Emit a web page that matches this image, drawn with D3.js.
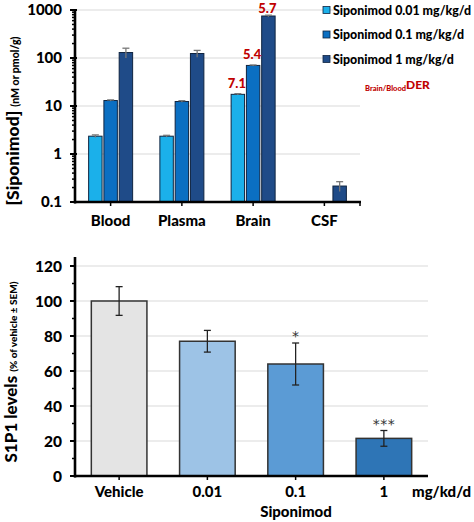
<!DOCTYPE html>
<html><head><meta charset="utf-8">
<script src="https://cdn.jsdelivr.net/npm/d3@7"></script>
<style>
html,body{margin:0;padding:0;background:#fff;}
svg{display:block;font-family:Lato,"Open Sans",sans-serif;font-weight:900;}
</style></head>
<body>
<svg id="chart" width="474" height="522"></svg>
<script>
// ---------- data: top panel ----------
const topCategories = ["Blood", "Plasma", "Brain", "CSF"];
const topSeries = ["Siponimod 0.01 mg/kg/d", "Siponimod 0.1 mg/kg/d", "Siponimod 1 mg/kg/d"];
const topColors = ["#1bb0ea", "#0b6fc2", "#1f4b88"];
const topValues = [
  [2.35, 2.35, 17.5, null],
  [13.0, 12.4, 70, null],
  [130, 124, 750, 0.215]
];
const topErrors = [
  [0.15, 0.1, 0.6, null],
  [0.4, 0.5, 1.5, null],
  [30, 20, 30, 0.05]
];
const derLabels = ["7.1", "5.4", "5.7"]; // Brain/Blood DER per dose
const topTicks = [0.1, 1, 10, 100, 1000];
const topTickLabels = ["0.1", "1", "10", "100", "1000"];

// ---------- data: bottom panel ----------
const botCategories = ["Vehicle", "0.01", "0.1", "1"];
const botValues = [100, 77, 64, 21.5];
const botErrors = [8.2, 6.2, 12, 4.5];
const botColors = ["#e4e4e4", "#9dc3e6", "#5b9bd5", "#2e75b6"];
const botSig = ["", "", "*", "***"];
const botTicks = [0, 20, 40, 60, 80, 100, 120];

const svg = d3.select("#chart");
const red = "#c00000";

// ================= TOP PANEL =================
const tx = d3.scaleBand().domain(topCategories).range([75, 360]).paddingInner(0).paddingOuter(0);
const tsub = d3.scaleBand().domain(d3.range(topSeries.length)).range([-22, 22]).paddingInner(0.12);
const ty = d3.scaleLog().domain([0.1, 1000]).range([202, 10]);

const gTop = svg.append("g");
gTop.selectAll("line.grid").data(topTicks.slice(1)).join("line")
  .attr("x1", 75).attr("x2", 360).attr("y1", d => ty(d)).attr("y2", d => ty(d))
  .attr("stroke", "#d9d9d9").attr("stroke-width", 1.2);

topSeries.forEach((s, si) => {
  const data = topCategories.map((c, ci) => ({c, v: topValues[si][ci], e: topErrors[si][ci]})).filter(d => d.v != null);
  gTop.selectAll(null).data(data).join("rect")
    .attr("x", d => tx(d.c) + tx.bandwidth() / 2 + tsub(si))
    .attr("width", tsub.bandwidth())
    .attr("y", d => ty(d.v))
    .attr("height", d => ty(0.1) - ty(d.v))
    .attr("fill", topColors[si]).attr("stroke", "#0f2440").attr("stroke-width", 1);
  data.forEach(d => {
    const cx = tx(d.c) + tx.bandwidth() / 2 + tsub(si) + tsub.bandwidth() / 2;
    const y1 = ty(d.v + d.e), y0 = ty(Math.max(d.v - d.e, 0.1001));
    gTop.append("line").attr("x1", cx).attr("x2", cx).attr("y1", y1).attr("y2", y0)
      .attr("stroke", "#777").attr("stroke-width", 1.3);
    gTop.append("line").attr("x1", cx - 3.5).attr("x2", cx + 3.5).attr("y1", y1).attr("y2", y1)
      .attr("stroke", "#777").attr("stroke-width", 1.3);
  });
});

derLabels.forEach((lab, si) => {
  const v = topValues[si][2], e = topErrors[si][2];
  gTop.append("text")
    .attr("x", tx("Brain") + tx.bandwidth() / 2 + tsub(si) + tsub.bandwidth() / 2 - 1)
    .attr("y", Math.max(ty(v + e) - 6, 12.5))
    .attr("text-anchor", "middle").attr("fill", red).attr("font-size", 13).text(lab);
});

const topMinor = [];
for (let dec = 0.1; dec < 1000; dec *= 10) for (let k = 2; k <= 9; k++) topMinor.push(dec * k);
gTop.selectAll("line.minor").data(topMinor).join("line")
  .attr("x1", 72).attr("x2", 75).attr("y1", d => ty(d)).attr("y2", d => ty(d))
  .attr("stroke", "#000").attr("stroke-width", 1.5);
gTop.selectAll("line.major").data(topTicks).join("line")
  .attr("x1", 70).attr("x2", 77).attr("y1", d => ty(d)).attr("y2", d => ty(d))
  .attr("stroke", "#000").attr("stroke-width", 2);
gTop.selectAll("text.ytick").data(topTicks).join("text")
  .attr("x", 62).attr("y", d => ty(d) + 5).attr("text-anchor", "end")
  .attr("font-size", 15).text((d, i) => topTickLabels[i]);
gTop.append("line").attr("x1", 75).attr("x2", 75).attr("y1", 9).attr("y2", 203.5)
  .attr("stroke", "#000").attr("stroke-width", 2.6);
gTop.append("line").attr("x1", 74).attr("x2", 361).attr("y1", 202).attr("y2", 202)
  .attr("stroke", "#000").attr("stroke-width", 2.6);
gTop.selectAll("line.xt").data(topCategories).join("line")
  .attr("x1", d => tx(d) + tx.bandwidth() / 2).attr("x2", d => tx(d) + tx.bandwidth() / 2)
  .attr("y1", 202).attr("y2", 206).attr("stroke", "#000").attr("stroke-width", 1.5);
gTop.append("line").attr("x1", 360).attr("x2", 360).attr("y1", 202).attr("y2", 206)
  .attr("stroke", "#000").attr("stroke-width", 1.5);
gTop.selectAll("text.xl").data(topCategories).join("text")
  .attr("x", d => tx(d) + tx.bandwidth() / 2).attr("y", 226).attr("text-anchor", "middle")
  .attr("font-size", 15).text(d => d);

const tyl = gTop.append("text").attr("transform", "translate(19,121) rotate(-90)").attr("text-anchor", "middle");
tyl.append("tspan").attr("font-size", 17.5).text("[Siponimod] ");
tyl.append("tspan").attr("font-size", 10.5).text("(nM or pmol/g)");

topSeries.forEach((s, i) => {
  const y = 10 + i * 24.5;
  gTop.append("rect").attr("x", 323).attr("y", y - 3.5).attr("width", 7).attr("height", 7)
    .attr("fill", topColors[i]).attr("stroke", "#0f2440").attr("stroke-width", 0.8);
  gTop.append("text").attr("x", 333).attr("y", y + 4.5).attr("font-size", 12.4).text(s);
});
const der = gTop.append("text").attr("x", 365).attr("y", 89).attr("fill", red);
der.append("tspan").attr("font-size", 7.5).attr("dy", 2).text("Brain/Blood");
der.append("tspan").attr("font-size", 12).attr("dy", -2).text("DER");

// ================= BOTTOM PANEL =================
const bx = d3.scaleBand().domain(botCategories).range([75, 428]).paddingInner(0.37).paddingOuter(0.185);
const by = d3.scaleLinear().domain([0, 120]).range([476, 266]);
const gBot = svg.append("g");

gBot.selectAll("line.grid").data(botTicks.slice(1)).join("line")
  .attr("x1", 75).attr("x2", 428).attr("y1", d => by(d)).attr("y2", d => by(d))
  .attr("stroke", "#d9d9d9").attr("stroke-width", 1.2);

gBot.selectAll("rect.bar").data(botCategories).join("rect")
  .attr("x", d => bx(d)).attr("width", bx.bandwidth())
  .attr("y", (d, i) => by(botValues[i])).attr("height", (d, i) => by(0) - by(botValues[i]))
  .attr("fill", (d, i) => botColors[i]).attr("stroke", "#333").attr("stroke-width", 1.5);

botCategories.forEach((c, i) => {
  const cx = bx(c) + bx.bandwidth() / 2;
  const y1 = by(botValues[i] + botErrors[i]), y0 = by(botValues[i] - botErrors[i]);
  gBot.append("line").attr("x1", cx).attr("x2", cx).attr("y1", y1).attr("y2", y0).attr("stroke", "#222").attr("stroke-width", 1.3);
  [y1, y0].forEach(yy => gBot.append("line").attr("x1", cx - 3.5).attr("x2", cx + 3.5).attr("y1", yy).attr("y2", yy).attr("stroke", "#222").attr("stroke-width", 1.3));
  if (botSig[i]) gBot.append("text").attr("x", cx).attr("y", y1 - 2).attr("text-anchor", "middle")
    .attr("font-family", "DejaVu Sans").attr("font-size", 14).attr("font-weight", "normal").attr("fill", "#333").attr("letter-spacing", 0.5).text(botSig[i]);
});

const botMinor = d3.range(10, 130, 20);
gBot.selectAll("line.minor").data(botMinor).join("line")
  .attr("x1", 72).attr("x2", 75).attr("y1", d => by(d)).attr("y2", d => by(d)).attr("stroke", "#000").attr("stroke-width", 1.5);
gBot.selectAll("line.major").data(botTicks).join("line")
  .attr("x1", 70).attr("x2", 75).attr("y1", d => by(d)).attr("y2", d => by(d)).attr("stroke", "#000").attr("stroke-width", 2);
gBot.selectAll("text.yt").data(botTicks).join("text")
  .attr("x", 62).attr("y", d => by(d) + 5.5).attr("text-anchor", "end").attr("font-size", 15.5).text(d => d);
gBot.append("line").attr("x1", 75).attr("x2", 75).attr("y1", 257).attr("y2", 477.5).attr("stroke", "#000").attr("stroke-width", 2.6);
gBot.append("line").attr("x1", 74).attr("x2", 428).attr("y1", 476).attr("y2", 476).attr("stroke", "#000").attr("stroke-width", 2.6);
gBot.selectAll("line.xt").data(botCategories).join("line")
  .attr("x1", d => bx(d) + bx.bandwidth() / 2).attr("x2", d => bx(d) + bx.bandwidth() / 2)
  .attr("y1", 476).attr("y2", 480).attr("stroke", "#000").attr("stroke-width", 1.5);
gBot.selectAll("text.xl").data(botCategories).join("text")
  .attr("x", d => bx(d) + bx.bandwidth() / 2).attr("y", 497).attr("text-anchor", "middle").attr("font-size", 15).text(d => d);
gBot.append("text").attr("x", 412).attr("y", 497).attr("font-size", 15).text("mg/kd/d");
gBot.append("text").attr("x", 296).attr("y", 517).attr("text-anchor", "middle").attr("font-size", 15).text("Siponimod");

const byl = gBot.append("text").attr("transform", "translate(17,372) rotate(-90)").attr("text-anchor", "middle");
byl.append("tspan").attr("font-size", 17).text("S1P1 levels ");
byl.append("tspan").attr("font-size", 10).text("(% of vehicle ± SEM)");
</script>
</body></html>
